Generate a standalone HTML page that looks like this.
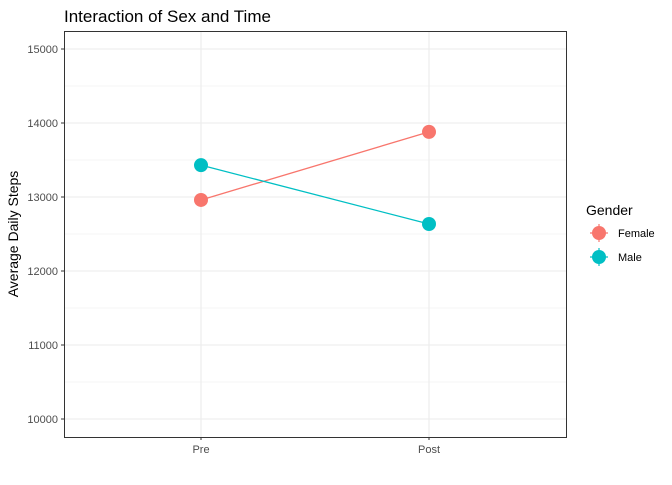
<!DOCTYPE html>
<html><head><meta charset="utf-8"><style>
body{margin:0;background:#fff;font-family:"Liberation Sans",sans-serif}
svg text{font-family:"Liberation Sans",sans-serif}
</style></head><body>
<svg id="chart" width="672" height="480" xmlns="http://www.w3.org/2000/svg">
<rect width="672" height="480" fill="#fff"/>
<text x="64" y="22" font-size="17" fill="#000">Interaction of Sex and Time</text>
<g id="grid"></g>
<g id="axes"></g>
<g id="series"></g>
<rect x="64.5" y="31.5" width="502" height="406" fill="none" stroke="#333" stroke-width="1"/>
<text transform="translate(18,234) rotate(-90)" text-anchor="middle" font-size="14" fill="#000">Average Daily Steps</text>
<g>
<text x="586" y="215" font-size="14" fill="#000">Gender</text>
<g id="legend-keys"></g>
</g>
</svg>
<script>
const categories = ["Pre", "Post"];
const seriesNames = ["Female", "Male"];
const femaleValues = [12960, 13880];
const maleValues = [13430, 12635];
const yTicks = [10000, 11000, 12000, 13000, 14000, 15000];
const colors = ["#F8766D", "#00BFC4"];

const NS = "http://www.w3.org/2000/svg";
const xPos = i => 201 + i * 228;
const yPos = v => 419 - (v - 10000) * 0.074;
function mk(tag, attrs, parent) {
  const e = document.createElementNS(NS, tag);
  for (const k in attrs) e.setAttribute(k, attrs[k]);
  parent.appendChild(e);
  return e;
}
const grid = document.getElementById("grid");
const axes = document.getElementById("axes");
yTicks.forEach((t, i) => {
  const g = mk("line", {x1: 64, x2: 566, y1: yPos(t), y2: yPos(t), stroke: "#ebebeb", "stroke-width": 1.1}, grid);
  
  
  if (i < yTicks.length - 1) {
    const m = mk("line", {x1: 64, x2: 566, y1: yPos(t + 500), y2: yPos(t + 500), stroke: "#ebebeb", "stroke-width": 0.6}, grid);
    
    
  }
  const tk = mk("line", {x1: 61, x2: 64, y1: yPos(t), y2: yPos(t), stroke: "#333"}, axes);
  
  
  const lb = mk("text", {x: 58, y: yPos(t) + 4, "text-anchor": "end", "font-size": 11, fill: "#4d4d4d"}, axes);
  lb.textContent = t;
  
  
});
categories.forEach((c, i) => {
  const g = mk("line", {x1: xPos(i), x2: xPos(i), y1: 31, y2: 437, stroke: "#ebebeb", "stroke-width": 1.1}, grid);
  
  
  const tk = mk("line", {x1: xPos(i), x2: xPos(i), y1: 437, y2: 440, stroke: "#333"}, axes);
  
  
  const lb = mk("text", {x: xPos(i), y: 453, "text-anchor": "middle", "font-size": 11, fill: "#4d4d4d"}, axes);
  lb.textContent = c;
  
  
});
const series = document.getElementById("series");
[femaleValues, maleValues].forEach((vals, s) => {
  const pts = vals.map((v, i) => xPos(i) + "," + yPos(v)).join(" ");
  const pl = mk("polyline", {points: pts, fill: "none", stroke: colors[s], "stroke-width": 1.3}, series);
  
  
});
[femaleValues, maleValues].forEach((vals, s) => {
  vals.forEach((v, i) => {
    const c = mk("circle", {cx: xPos(i), cy: yPos(v), r: 7, fill: colors[s]}, series);
    
    
  });
});
const lk = document.getElementById("legend-keys");
seriesNames.forEach((n, s) => {
  const cy = 233 + s * 24;
  const g = mk("g", {}, lk);
  
  
  mk("line", {x1: 590, x2: 608, y1: cy, y2: cy, stroke: colors[s], "stroke-width": 1.2}, g);
  mk("line", {x1: 599, x2: 599, y1: cy - 9, y2: cy + 9, stroke: colors[s], "stroke-width": 1.2}, g);
  mk("circle", {cx: 599, cy: cy, r: 7, fill: colors[s]}, g);
  const t = mk("text", {x: 618, y: cy + 4, "font-size": 11, fill: "#000"}, g);
  t.textContent = n;
});
</script>
</body></html>
